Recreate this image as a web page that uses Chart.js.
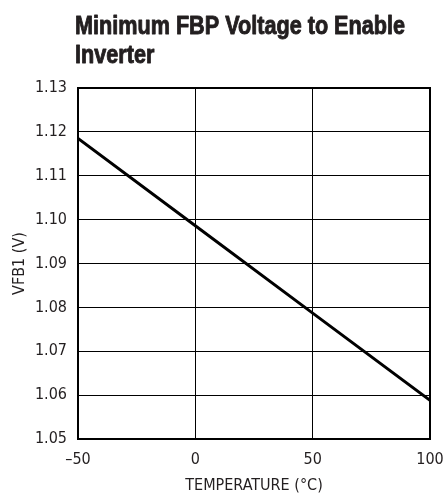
<!DOCTYPE html>
<html>
<head>
<meta charset="utf-8">
<script src="https://cdn.jsdelivr.net/npm/chart.js@4.4.0/dist/chart.umd.min.js"></script>
<style>
  html, body { margin: 0; padding: 0; background: #fff; }
  #wrap { width: 444px; height: 495px; position: relative; }
</style>
</head>
<body>
<div id="wrap"><canvas id="myChart"></canvas></div>
<script>
const temps = [-50, 0, 50, 100]
const vfb1 = [1.1185, 1.0986, 1.0787, 1.0588]
const xTicks = [-50, 0, 50, 100]
const yTicks = [1.05, 1.06, 1.07, 1.08, 1.09, 1.10, 1.11, 1.12, 1.13]
const titleLines = ['Minimum FBP Voltage to Enable', 'Inverter']

const narrow = '"Liberation Sans Narrow", "DejaVu Sans Condensed", "Liberation Sans", sans-serif'

const points = temps.map((t, i) => ({ x: t, y: vfb1[i] }))

// title drawn over the chart area's left edge, frame drawn round the plot
const extras = {
    id: 'extras',
    afterDraw(chart) {
        const ctx = chart.ctx
        const a = chart.chartArea
        ctx.save()
        ctx.strokeStyle = '#000'
        ctx.lineWidth = 2
        ctx.strokeRect(a.left, a.top, a.right - a.left, a.bottom - a.top)
        ctx.fillStyle = '#231f20'
        ctx.strokeStyle = '#231f20'
        ctx.lineWidth = 0.9
        ctx.lineJoin = 'round'
        ctx.font = 'bold 25px "Liberation Sans", Arial, sans-serif'
        ctx.textAlign = 'left'
        ctx.textBaseline = 'alphabetic'
        // squeeze to the condensed width of the original
        const sx = 330 / ctx.measureText(titleLines[0]).width
        ctx.translate(75, 0)
        ctx.scale(sx, 1)
        titleLines.forEach((line, i) => {
            ctx.fillText(line, 0, 34 + i * 29)
            ctx.strokeText(line, 0, 34 + i * 29)
        })
        ctx.restore()
    },
}

const config = {
    type: 'scatter',
    data: {
        datasets: [
            {
                data: points,
                showLine: true,
                borderColor: '#000',
                borderWidth: 3,
                pointRadius: 0,
                fill: false,
            },
        ],
    },
    options: {
        responsive: true,
        maintainAspectRatio: false,
        animation: false,
        layout: { padding: { top: 88, right: 14, left: 0, bottom: 0 } },
        plugins: { legend: { display: false }, tooltip: { enabled: false } },
        scales: {
            x: {
                type: 'linear',
                min: -50,
                max: 100,
                afterBuildTicks: (axis) => {
                    axis.ticks = xTicks.map((v) => ({ value: v }))
                },
                afterFit: (axis) => {
                    axis.height = 56
                    axis.paddingLeft = 0
                    axis.paddingRight = 0
                },
                ticks: {
                    color: '#231f20',
                    font: { family: narrow, size: 16 },
                    padding: 11,
                    maxRotation: 0,
                    callback: (v) => String(v).replace('-', '\u2013'),
                },
                grid: { color: '#000', lineWidth: 1, drawTicks: false },
                border: { color: '#000', width: 2 },
                title: {
                    display: true,
                    text: 'TEMPERATURE (°C)',
                    color: '#231f20',
                    font: { family: narrow, size: 16 },
                    padding: { top: 2, bottom: 0 },
                },
            },
            y: {
                type: 'linear',
                min: 1.05,
                max: 1.13,
                afterBuildTicks: (axis) => {
                    axis.ticks = yTicks.map((v) => ({ value: v }))
                },
                afterFit: (axis) => {
                    axis.width = 78
                    axis.paddingTop = 0
                    axis.paddingBottom = 0
                },
                ticks: {
                    color: '#231f20',
                    font: { family: narrow, size: 16 },
                    padding: 11,
                    callback: (v) => Number(v).toFixed(2),
                },
                grid: { color: '#000', lineWidth: 1, drawTicks: false },
                border: { color: '#000', width: 2 },
                title: {
                    display: true,
                    text: 'VFB1 (V)',
                    color: '#231f20',
                    font: { family: narrow, size: 16 },
                    padding: { top: 10, bottom: 0 },
                },
            },
        },
    },
    plugins: [extras],
}

const myChart = new Chart(document.getElementById('myChart'), config)
</script>
</body>
</html>
